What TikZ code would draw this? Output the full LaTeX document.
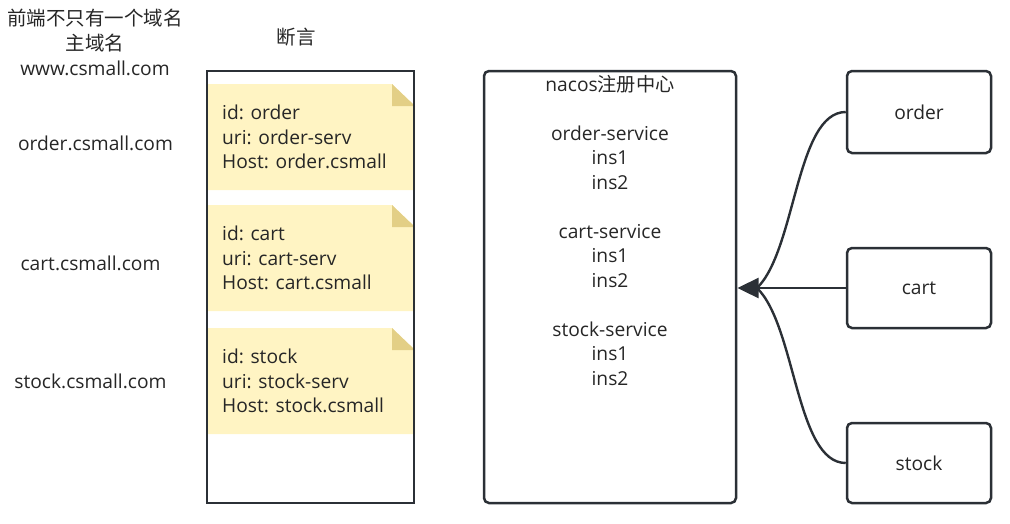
\documentclass[tikz,border=0pt]{standalone}
\usepackage{fontspec}
\setmainfont{Open Sans}
\newfontfamily\cjk{Noto Sans CJK SC}
\usetikzlibrary{arrows.meta}
\definecolor{linecolor}{HTML}{2B3036}
\definecolor{notefill}{HTML}{FFF4C3}
\definecolor{notefold}{HTML}{E3CF86}

\tikzset{
  txt/.style={inner sep=0pt,font=\fontsize{19.2}{24.5}\selectfont,text=black!85},
  cjktxt/.style={txt,font=\cjk\fontsize{19.5}{24.5}\selectfont},
  frame/.style={draw=linecolor,line width=2.5pt,inner sep=0pt},
  svcbox/.style={frame,rounded corners=5pt,minimum width=144pt},
  conn/.style={draw=linecolor,line width=2.4pt},
  connarrow/.style={conn,-{Triangle[length=21pt,width=20pt]}}
}

\begin{document}
\begin{tikzpicture}[x=1pt,y=-1pt]
  \useasboundingbox (0,0) rectangle (1010,523);
%% left column: domains
  \node[cjktxt] (t1) at (95,18) {前端不只有一个域名};
  \node[cjktxt] (t2) at (95,43) {主域名};
  \node[txt] (www) at (95,68) {www.csmall.com};
  \node[txt] (dorder) at (95.5,143) {order.csmall.com};
  \node[txt] (dcart) at (90.5,263) {cart.csmall.com};
  \node[txt] (dstock) at (90.5,381) {stock.csmall.com};
  \node[cjktxt] (pred) at (296,37) {断言};
%% notes
  \foreach \y/\n/\a/\b/\c in {84/notea/order/order-serv/order.csmall,
                              205/noteb/cart/cart-serv/cart.csmall,
                              328/notec/stock/stock-serv/stock.csmall}{
    \fill[notefill] (207,\y) -- (392,\y) -- (415,\y+22) -- (415,\y+106) -- (207,\y+106) -- cycle;
    \fill[notefold] (392,\y) -- (415,\y+22) -- (392,\y+22) -- cycle;
    \node[txt,anchor=north west,align=left] (\n) at (222,\y+21) {id: \a\\uri: \b\\Host: \c};
  }
  \node[frame,minimum width=207pt,minimum height=432pt] (gate) at (310.5,287) {};
%% registry
  \node[frame,rounded corners=5pt,minimum width=252pt,minimum height=432pt] (nacos) at (610,287) {};
  \node[txt,anchor=north,align=center] (reg) at (610,75)
    {nacos{\cjk 注册中心}\\[24.5pt]order-service\\ins1\\ins2\\[24.5pt]cart-service\\ins1\\ins2\\[24.5pt]stock-service\\ins1\\ins2};
%% services
  \node[svcbox,minimum height=82pt] (order) at (919,112) {};
  \node[txt] at (order) {order};
  \node[svcbox,minimum height=80pt] (cart) at (919,288) {};
  \node[txt] at (cart) {cart};
  \node[svcbox,minimum height=80pt] (stock) at (919,463) {};
  \node[txt] at (stock) {stock};
  \coordinate (tip) at (737.5,288);
  \coordinate (base) at (757,288);
  \draw[conn] (order.west) .. controls (796,112) and (796,250) .. (base);
  \draw[conn] (stock.west) .. controls (796,463) and (796,326) .. (base);
  \draw[connarrow] (cart.west) -- (tip);
\end{tikzpicture}
\end{document}
